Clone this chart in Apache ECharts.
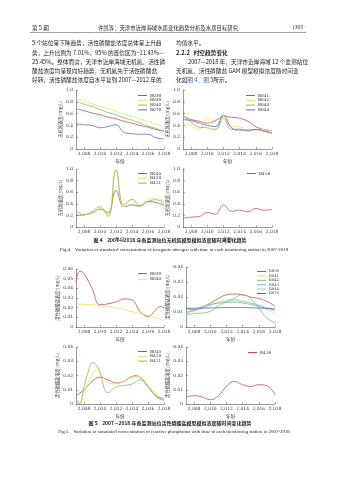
<!DOCTYPE html>
<html><head><meta charset="utf-8">
<script src="https://cdn.jsdelivr.net/npm/echarts@6/dist/echarts.min.js"></script>
<style>html,body{margin:0;padding:0;background:#fff}#c{width:339px;height:480px}</style>
</head><body><div id="c"></div>
<script>
// ---------- tick labels ----------
const yearTicks = [2008, 2010, 2012, 2014, 2016, 2018];
const years = [2007, 2008, 2009, 2010, 2011, 2012, 2013, 2014, 2015, 2016, 2017, 2018];

// ---------- Fig.4 inorganic nitrogen (mg/L) ----------
const f4p1Names = ['B038', 'B039', 'B040', 'B078'];
const f4_B038 = [0.68, 0.65, 0.61, 0.58, 0.54, 0.51, 0.47, 0.44, 0.40, 0.37, 0.33, 0.30];
const f4_B039 = [0.85, 0.81, 0.77, 0.72, 0.68, 0.64, 0.59, 0.55, 0.51, 0.47, 0.42, 0.38];
const f4_B040 = [0.81, 0.76, 0.72, 0.67, 0.62, 0.58, 0.53, 0.49, 0.44, 0.39, 0.35, 0.30];
const f4_B078 = [0.43, 0.41, 0.40, 0.36, 0.38, 0.41, 0.28, 0.26, 0.25, 0.25, 0.19, 0.17];

const f4p2Names = ['B041', 'B042', 'B043', 'B044'];
const f4_B041 = [0.55, 0.50, 0.47, 0.44, 0.48, 0.55, 0.54, 0.52, 0.47, 0.38, 0.33, 0.31];
const f4_B042 = [0.42, 0.40, 0.33, 0.52, 0.33, 0.55, 0.38, 0.38, 0.32, 0.33, 0.33, 0.30];
const f4_B043 = [0.57, 0.45, 0.37, 0.36, 0.33, 0.52, 0.33, 0.34, 0.30, 0.33, 0.31, 0.27];
const f4_B044 = [0.50, 0.48, 0.44, 0.40, 0.38, 0.58, 0.36, 0.32, 0.32, 0.33, 0.30, 0.27];

const f4p3Names = ['B045', 'B410', 'B411'];
const f4_B045 = [0.20, 0.21, 0.24, 0.31, 0.25, 0.63, 0.35, 0.38, 0.36, 0.44, 0.42, 0.38];
const f4_B410 = [0.24, 0.21, 0.25, 0.32, 0.21, 0.95, 0.35, 0.47, 0.37, 0.48, 0.50, 0.44];
const f4_B411 = [0.28, 0.21, 0.27, 0.35, 0.18, 0.99, 0.38, 0.48, 0.37, 0.44, 0.47, 0.41];

const f4p4Names = ['B416'];
const f4_B416 = [0.15, 0.17, 0.18, 0.25, 0.22, 0.38, 0.27, 0.29, 0.26, 0.32, 0.29, 0.30];

// ---------- Fig.5 reactive phosphorus (mg/L) ----------
const f5p1Names = ['B039', 'B040'];
const f5_B039_x = [2007, 2007.5, 2008, 2009, 2010, 2011, 2012, 2013, 2014, 2015, 2016, 2017, 2017.5, 2018];
const f5_B039 = [0.047, 0.058, 0.055, 0.040, 0.023, 0.024, 0.026, 0.029, 0.028, 0.016, 0.011, 0.018, 0.021, 0.020];
const f5_B040 = [0.024, 0.0235, 0.023, 0.022, 0.021, 0.020, 0.018, 0.016, 0.014, 0.012, 0.009, 0.007];

const f5p2Names = ['B038', 'B041', 'B042', 'B043', 'B044', 'B078'];
const f5_B038 = [0.0125, 0.0115, 0.0125, 0.016, 0.019, 0.0215, 0.022, 0.0215, 0.020, 0.019, 0.017, 0.014];
const f5_B041 = [0.009, 0.0105, 0.0125, 0.015, 0.017, 0.018, 0.0185, 0.017, 0.0155, 0.014, 0.0115, 0.0093];
const f5_B042 = [0.008, 0.009, 0.0093, 0.0105, 0.014, 0.017, 0.019, 0.0215, 0.019, 0.0125, 0.006, 0.0027];
const f5_B043 = [0.0093, 0.0115, 0.0137, 0.015, 0.016, 0.0165, 0.0165, 0.016, 0.015, 0.0137, 0.0125, 0.011];
const f5_B044 = [0.010, 0.011, 0.013, 0.0145, 0.016, 0.017, 0.0175, 0.017, 0.016, 0.0145, 0.013, 0.012];
const f5_B078 = [0.0125, 0.0125, 0.0126, 0.0127, 0.0128, 0.013, 0.013, 0.013, 0.0128, 0.0126, 0.0123, 0.012];

const f5p3Names = ['B045', 'B410', 'B411'];
const f5_B045_x = [2007, 2008, 2009, 2010, 2011, 2012, 2013, 2014, 2014.5, 2015, 2016, 2017, 2018];
const f5_B045 = [0.0058, 0.010, 0.0158, 0.0188, 0.017, 0.0147, 0.0158, 0.0193, 0.0198, 0.0188, 0.0123, 0.0053, 0.0026];
const f5_B410_x = [2007, 2007.5, 2008, 2009, 2009.7, 2010, 2011, 2012, 2013, 2014, 2015, 2016, 2017, 2018];
const f5_B410 = [0.003, 0.001, 0.008, 0.020, 0.024, 0.022, 0.015, 0.014, 0.016, 0.019, 0.019, 0.013, 0.007, 0.003];
const f5_B411_x = [2007, 2007.4, 2008, 2008.5, 2009.1, 2009.6, 2010, 2011, 2012, 2013, 2014, 2015, 2016, 2017, 2018];
const f5_B411 = [0.004, 0.000, 0.012, 0.022, 0.029, 0.027, 0.022, 0.008, 0.012, 0.013, 0.014, 0.017, 0.012, 0.006, 0.004];

const f5p4Names = ['B416'];
const f5_B416 = [0.0049, 0.0058, 0.0049, 0.003, 0.0058, 0.0123, 0.0158, 0.0135, 0.0123, 0.0135, 0.0128, 0.0065];

// ---------- build ----------
const RED = '#c04b5e', YEL = '#e2e45e', GRN = '#7ec35c', BLU = '#6667b8', LBL = '#6fb2dc', TEA = '#7fcfc4', PUR = '#6a58a6';
const SERIF = 'DejaVu Serif';
const CJK = 'Noto Sans CJK SC';
const zip = (xs, ys) => ys.map((v, i) => [xs[i], v]);

const grids = [
  {left: 76, top: 90, width: 88, height: 59},
  {left: 183, top: 90, width: 89, height: 59},
  {left: 76, top: 169, width: 88, height: 58},
  {left: 183, top: 169, width: 89, height: 58},
  {left: 76, top: 269, width: 88, height: 58},
  {left: 186, top: 267, width: 89, height: 60},
  {left: 76, top: 347, width: 88, height: 57},
  {left: 186, top: 347, width: 89, height: 57}
];

function xAx(i) {
  return {gridIndex: i, type: 'value', min: 2007, max: 2018,
    axisLine: {lineStyle: {color: '#555', width: 0.6}},
    axisTick: {show: true, inside: true, length: 2, customValues: yearTicks, lineStyle: {color: '#555', width: 0.5}},
    axisLabel: {customValues: yearTicks, fontSize: 4.4, color: '#333', margin: 3, fontFamily: SERIF},
    splitLine: {show: false},
    name: '年份', nameLocation: 'middle', nameGap: 9.5,
    nameTextStyle: {fontSize: 4.6, color: '#333', fontFamily: CJK}};
}
function yAx(i, max, intv, dec, name, gap) {
  return {gridIndex: i, type: 'value', min: 0, max: max, interval: intv,
    axisLine: {show: true, lineStyle: {color: '#555', width: 0.6}},
    axisTick: {show: true, inside: true, length: 2, lineStyle: {color: '#555', width: 0.5}},
    axisLabel: {fontSize: 4.4, color: '#333', margin: 3, fontFamily: SERIF,
      formatter: v => v === 0 ? '0' : v.toFixed(dec)},
    splitLine: {show: false},
    name: name, nameLocation: 'middle', nameGap: gap,
    nameTextStyle: {fontSize: 4.3, color: '#333', fontFamily: CJK}};
}
const xAxes = [], yAxes = [];
for (let i = 0; i < 8; i++) {
  xAxes.push(xAx(i));
  if (i < 4) yAxes.push(yAx(i, 1.0, 0.2, 1, '无机氮浓度/(mg/L)', 11.5));
  else yAxes.push(yAx(i, i === 4 ? 0.06 : 0.04, 0.01, 2, '活性磷酸盐浓度/(mg/L)', 15.5));
}

const series = [];
function addS(key, gi, xs, ys, color) {
  series.push({name: key, type: 'line', xAxisIndex: gi, yAxisIndex: gi, data: zip(xs, ys),
    smooth: 0.45, showSymbol: false, symbol: 'none', lineStyle: {color: color, width: 0.8},
    itemStyle: {color: color}});
}
addS('N-B038', 0, years, f4_B038, RED);
addS('N-B039', 0, years, f4_B039, YEL);
addS('N-B040', 0, years, f4_B040, GRN);
addS('N-B078', 0, years, f4_B078, BLU);
addS('N-B041', 1, years, f4_B041, RED);
addS('N-B042', 1, years, f4_B042, YEL);
addS('N-B043', 1, years, f4_B043, GRN);
addS('N-B044', 1, years, f4_B044, BLU);
addS('N-B045', 2, years, f4_B045, RED);
addS('N-B410', 2, years, f4_B410, YEL);
addS('N-B411', 2, years, f4_B411, GRN);
addS('N-B416', 3, years, f4_B416, RED);
addS('P-B039', 4, f5_B039_x, f5_B039, RED);
addS('P-B040', 4, years, f5_B040, YEL);
addS('P-B038', 5, years, f5_B038, RED);
addS('P-B041', 5, years, f5_B041, YEL);
addS('P-B042', 5, years, f5_B042, GRN);
addS('P-B043', 5, years, f5_B043, LBL);
addS('P-B044', 5, years, f5_B044, TEA);
addS('P-B078', 5, years, f5_B078, PUR);
addS('P-B045', 6, f5_B045_x, f5_B045, RED);
addS('P-B410', 6, f5_B410_x, f5_B410, YEL);
addS('P-B411', 6, f5_B411_x, f5_B411, GRN);
addS('P-B416', 7, years, f5_B416, RED);

function leg(prefix, names, left, top, fs, gap) {
  return {data: names.map(n => prefix + n), left: left, top: top, orient: 'vertical', padding: 0,
    itemWidth: 9, itemHeight: 1, icon: 'rect', itemGap: gap, selectedMode: false,
    formatter: n => n.slice(2),
    textStyle: {fontSize: fs, color: '#333', fontFamily: SERIF, padding: [0, 0, 0, -2]}};
}
const legends = [
  leg('N-', f4p1Names, 138, 93.5, 4.2, 0.8),
  leg('N-', f4p2Names, 246, 93.5, 4.2, 0.8),
  leg('N-', f4p3Names, 138, 171.5, 4.2, 0.8),
  leg('N-', f4p4Names, 247, 171.5, 4.2, 0.8),
  leg('P-', f5p1Names, 138, 271.5, 4.2, 1.8),
  leg('P-', f5p2Names, 257, 269.5, 3.8, 0.4),
  leg('P-', f5p3Names, 138, 349.5, 4.2, 0.8),
  leg('P-', f5p4Names, 248, 350.5, 4.2, 0.8)
];

function T(text, x, y, fs, opts) {
  opts = opts || {};
  return {type: 'text', silent: true, style: {text: text, x: x, y: y,
    fontSize: fs, fontWeight: opts.bold ? 'bold' : 'normal', fontFamily: opts.family || CJK,
    fill: opts.fill || '#222', align: opts.align || 'left', verticalAlign: 'middle'}};
}
const BODY = 5.7;
const graphics = [
  T('第 5 期', 32, 28, 5.6),
  T('许凯等：天津市近岸海域水质变化趋势分析及水质目标研究', 168, 28, 5.4, {align: 'center'}),
  T('· 1303 ·', 306, 28, 5.4, {align: 'right', family: 'Liberation Serif'}),
  {type: 'line', silent: true, shape: {x1: 30, y1: 32.5, x2: 306, y2: 32.5}, style: {stroke: '#444', lineWidth: 0.5}},
  T('5 个站位呈下降趋势，活性磷酸盐浓度总体呈上升趋', 32, 43, BODY),
  T('势，上升比例为 7.01%，95% 的置信区为−11.43%—', 32, 52.5, BODY),
  T('25.45%。整体而言，天津市近岸海域无机氮、活性磷', 32, 61.5, BODY),
  T('酸盐浓度均呈现向好趋势，无机氮先于活性磷酸盐', 32, 70.5, BODY),
  T('好转，活性磷酸盐浓度自水平复到 2007—2012 年的', 32, 80, BODY),
  T('均值水平。', 176, 43, BODY),
  T('2.2.2   时空趋势变化', 176, 52.5, BODY, {bold: true}),
  T('2007—2018 年，天津市近岸海域 12 个监测站位', 188, 61.5, BODY),
  T('无机氮、活性磷酸盐 GAM 模型模拟浓度随时间变', 176, 70.5, BODY),
  {type: 'text', silent: true, style: {x: 176, y: 80, verticalAlign: 'middle',
    text: '{a|化如}{b|图 4、图 5}{a|所示。}',
    rich: {a: {fontSize: BODY, fontFamily: CJK, fill: '#222'}, b: {fontSize: BODY, fontFamily: CJK, fill: '#2b5fb4'}}}},
  T('图 4    2007—2018 年各监测站位无机氮模型模拟浓度随时间变化趋势', 170, 240, 5.0, {align: 'center', bold: true}),
  T('Fig.4    Variation of simulated concentration of inorganic nitrogen with time at each monitoring station in 2007-2018', 174, 250, 4.9, {align: 'center', family: 'Liberation Serif'}),
  T('图 5    2007—2018 年各监测站位活性磷酸盐模型模拟浓度随时间变化趋势', 170, 423, 5.0, {align: 'center', bold: true}),
  T('Fig.5    Variation of simulated concentration of reactive phosphorus with time at each monitoring station in 2007-2018', 174, 432, 4.9, {align: 'center', family: 'Liberation Serif'})
];

const chart = echarts.init(document.getElementById('c'), null, {renderer: 'canvas'});
chart.setOption({
  backgroundColor: '#fff',
  animation: false,
  grid: grids,
  xAxis: xAxes,
  yAxis: yAxes,
  legend: legends,
  series: series,
  graphic: graphics
});
</script></body></html>
